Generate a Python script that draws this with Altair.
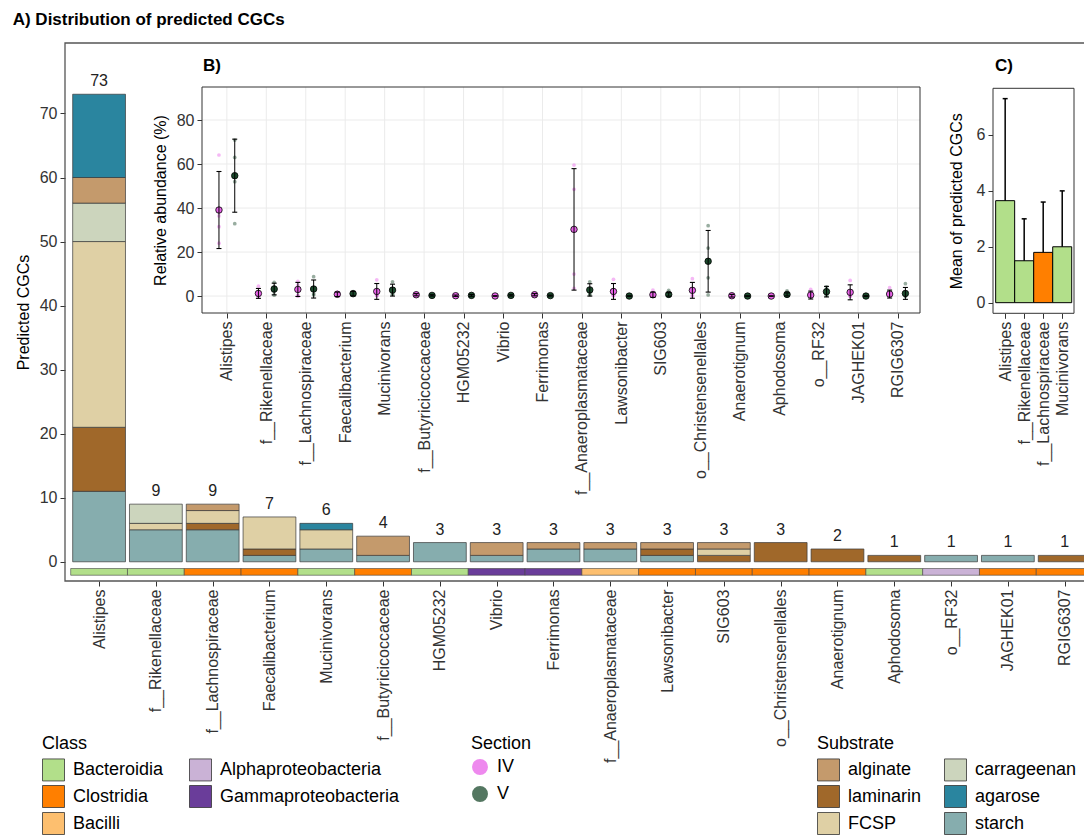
import json
import altair as alt
import pandas as pd

FONT = "Liberation Sans"

# ---------------- data ----------------
genera = ["Alistipes", "f__Rikenellaceae", "f__Lachnospiraceae", "Faecalibacterium",
          "Mucinivorans", "f__Butyricicoccaceae", "HGM05232", "Vibrio", "Ferrimonas",
          "f__Anaeroplasmataceae", "Lawsonibacter", "SIG603", "o__Christensenellales",
          "Anaerotignum", "Aphodosoma", "o__RF32", "JAGHEK01", "RGIG6307"]
genus_class = ["Bacteroidia", "Bacteroidia", "Clostridia", "Clostridia", "Bacteroidia",
               "Clostridia", "Bacteroidia", "Gammaproteobacteria", "Gammaproteobacteria",
               "Bacilli", "Clostridia", "Clostridia", "Clostridia", "Clostridia",
               "Bacteroidia", "Alphaproteobacteria", "Clostridia", "Clostridia"]

# predicted CGCs per substrate (stack order bottom -> top)
starch      = [11, 5, 5, 1, 2, 1, 3, 1, 2, 2, 1, 0, 0, 0, 0, 1, 1, 0]
laminarin   = [10, 0, 1, 1, 0, 0, 0, 0, 0, 0, 1, 1, 3, 2, 1, 0, 0, 1]
fcsp        = [29, 1, 2, 5, 3, 0, 0, 0, 0, 0, 0, 1, 0, 0, 0, 0, 0, 0]
carrageenan = [6, 3, 0, 0, 0, 0, 0, 0, 0, 0, 0, 0, 0, 0, 0, 0, 0, 0]
alginate    = [4, 0, 1, 0, 0, 3, 0, 2, 1, 1, 1, 1, 0, 0, 0, 0, 0, 0]
agarose     = [13, 0, 0, 0, 1, 0, 0, 0, 0, 0, 0, 0, 0, 0, 0, 0, 0, 0]

stack_order = ["starch", "laminarin", "FCSP", "carrageenan", "alginate", "agarose"]
stack_values = [starch, laminarin, fcsp, carrageenan, alginate, agarose]

substrate_legend = ["alginate", "laminarin", "FCSP", "carrageenan", "agarose", "starch"]
substrate_colors = ["#C49A6C", "#A0682A", "#DFD0A5", "#CCD5BD", "#2A859F", "#86ADAE"]
class_legend = ["Bacteroidia", "Clostridia", "Bacilli", "Alphaproteobacteria", "Gammaproteobacteria"]
class_colors = ["#B2DF8A", "#FF7F00", "#FDBF6F", "#CAB2D6", "#6A3D9A"]

# B) relative abundance (%), mean and sd per section, and replicate values
mean_iv = [39.1, 1.2, 3.0, 0.8, 2.1, 0.6, 0.15, 0.03, 0.6, 30.3, 2.1, 0.6, 2.6, 0.15, 0.0, 0.45, 1.7, 0.9]
sd_iv   = [17.5, 2.25, 3.2, 1.0, 3.6, 0.5, 0.3, 0.1, 0.5, 27.6, 3.6, 1.2, 3.6, 0.6, 0.1, 1.8, 3.4, 1.8]
mean_v  = [54.7, 3.2, 3.2, 1.1, 2.7, 0.3, 0.3, 0.3, 0.2, 2.8, 0.0, 0.75, 15.8, 0.0, 0.75, 2.0, 0.0, 1.2]
sd_v    = [16.6, 2.65, 4.1, 1.0, 2.7, 0.3, 0.4, 0.3, 0.2, 2.8, 0.1, 0.8, 14.0, 0.1, 0.7, 2.4, 0.1, 2.7]
raw_iv = [[64.1, 36.4, 31.5, 24.0], [4.5, 0.5, 0.0, 0.0], [6.7, 5.0, 0.3, 0.0], [1.8, 1.0, 0.3, 0.1],
          [7.4, 0.6, 0.3, 0.1], [1.2, 0.7, 0.4, 0.1], [0.5, 0.1, 0.0, 0.0], [0.1, 0.0, 0.0, 0.0],
          [1.2, 0.7, 0.4, 0.1], [59.5, 48.5, 10.0, 3.5], [7.6, 0.4, 0.2, 0.1], [2.7, 0.1, 0.0, 0.0],
          [7.9, 2.0, 0.5, 0.0], [0.6, 0.0, 0.0, 0.0], [0.1, 0.0, 0.0, 0.0], [3.0, 0.2, 0.0, 0.0],
          [7.1, 0.3, 0.0, 0.0], [3.8, 0.2, 0.0, 0.0]]
raw_v = [[70.9, 63.0, 52.0, 32.9], [6.2, 4.2, 2.0, 0.4], [8.8, 2.5, 1.0, 0.5], [2.0, 1.3, 0.8, 0.3],
         [6.5, 2.5, 1.0, 0.8], [0.7, 0.3, 0.2, 0.0], [0.9, 0.2, 0.1, 0.0], [0.7, 0.3, 0.2, 0.0],
         [0.4, 0.2, 0.1, 0.0], [6.5, 3.0, 1.0, 0.5], [0.1, 0.0, 0.0, 0.0], [2.6, 0.3, 0.1, 0.0],
         [32.0, 21.8, 8.3, 0.5], [0.1, 0.0, 0.0, 0.0], [2.4, 0.4, 0.2, 0.0], [4.2, 3.0, 0.5, 0.3],
         [0.1, 0.0, 0.0, 0.0], [5.6, 0.2, 0.1, 0.0]]
sections = ["IV", "V"]
section_colors = ["#E862E8", "#1B4A2C"]

# C) mean of predicted CGCs
c_genera = ["Alistipes", "f__Rikenellaceae", "f__Lachnospiraceae", "Mucinivorans"]
c_class = ["Bacteroidia", "Bacteroidia", "Clostridia", "Bacteroidia"]
c_mean = [3.65, 1.5, 1.8, 2.0]
c_sd = [3.65, 1.5, 1.8, 2.0]

a_yticks = [0, 10, 20, 30, 40, 50, 60, 70]
b_yticks = [0, 20, 40, 60, 80]
c_yticks = [0, 2, 4, 6]

# ---------------- tables ----------------
cgc_rows = []
for i, g in enumerate(genera):
    for o, (s, vals) in enumerate(zip(stack_order, stack_values)):
        if vals[i] > 0:
            cgc_rows.append({"idx": i, "substrate": s, "count": vals[i], "ord": o})
cgc_df = pd.DataFrame(cgc_rows)
tot_df = pd.DataFrame({"idx": list(range(len(genera))),
                       "total": [sum(v[i] for v in stack_values) for i in range(len(genera))]})
cls_df = pd.DataFrame({"idx": list(range(len(genera))), "cls": genus_class})

sum_rows, raw_rows = [], []
for i in range(len(genera)):
    sum_rows.append({"idx": i, "section": "IV", "mean": mean_iv[i], "sd": sd_iv[i]})
    sum_rows.append({"idx": i, "section": "V", "mean": mean_v[i], "sd": sd_v[i]})
    for v in raw_iv[i]:
        raw_rows.append({"idx": i, "section": "IV", "value": v})
    for v in raw_v[i]:
        raw_rows.append({"idx": i, "section": "V", "value": v})
sum_df = pd.DataFrame(sum_rows)
raw_df = pd.DataFrame(raw_rows)
c_df = pd.DataFrame({"idx": list(range(4)), "genus": c_genera, "cls": c_class,
                     "mean": c_mean, "sd": c_sd})
one = pd.DataFrame({"k": [0]})

W, H = 1076, 827

# ---------------- scales (pixel ranges place each panel) ----------------
def S(domain, rng):
    return alt.Scale(domain=domain, range=rng, nice=False, zero=False, padding=0)

AX = S([-0.6, 17.9], [57, 57 + 18.5 * 56.8])
AY = S([-3, 81], [573, 35])
BX = S([-0.63, 17.57], [194, 912])
BY = S([-7.7, 95], [305, 79])
CX = S([-0.64, 3.62], [985, 1066])
CY = S([-0.38, 7.67], [305.3, 80.3])

SUB_SCALE = alt.Scale(domain=substrate_legend, range=substrate_colors)
CLS_SCALE = alt.Scale(domain=class_legend, range=class_colors)
SEC_SCALE = alt.Scale(domain=sections, range=section_colors)

AXC = dict(labelFontSize=16, labelColor="#333333", tickColor="#333333", tickSize=5,
           domain=False, grid=False, titleFontSize=16, titleFontWeight="normal",
           titleColor="black", labelOverlap=False, labelBound=False, labelFlush=False)


def xaxis(names, offset):
    return alt.Axis(orient="bottom", offset=offset, values=list(range(len(names))),
                    labelExpr=json.dumps(names) + "[datum.value]", labelAngle=-90,
                    labelPadding=3, title=None, **AXC)


def yaxis(values, offset, title, pad):
    return alt.Axis(orient="left", offset=offset, values=values, title=title, format="d",
                    titlePadding=pad, labelPadding=3, **AXC)


def frame(xs, ys, xd, yd, **mk):
    return alt.Chart(one).mark_rect(**mk).encode(
        x=alt.XDatum(xd[0], type="quantitative", scale=xs),
        x2=alt.X2Datum(xd[1]),
        y=alt.YDatum(yd[0], type="quantitative", scale=ys),
        y2=alt.Y2Datum(yd[1]))


def title_text(txt, xs, ys, xv, yv, dx, dy):
    return alt.Chart(one).mark_text(text=txt, align="left", baseline="alphabetic", dx=dx, dy=dy,
                                    fontSize=17, fontWeight="bold", color="black").encode(
        x=alt.XDatum(xv, type="quantitative", scale=xs),
        y=alt.YDatum(yv, type="quantitative", scale=ys))


LEG = dict(orient="none", direction="vertical", labelFontSize=18, titleFontSize=18,
           titleFontWeight="normal", titleColor="black", labelColor="black", padding=0,
           titlePadding=5, labelOffset=8, labelFont=FONT, titleFont=FONT, labelLimit=400)
LEG_Y = 727

# ---------------- panel A ----------------
a_bars = alt.Chart(cgc_df).transform_stack(
    stack="count", groupby=["idx"], as_=["y0", "y1"],
    sort=[alt.SortField("ord", order="ascending")]
).mark_bar(size=52.8, orient="vertical", stroke="#3a3a3a", strokeWidth=0.7).encode(
    x=alt.X("idx:Q", scale=AX, axis=xaxis(genera, 573 - H)),
    y=alt.Y("y0:Q", scale=AY, axis=yaxis(a_yticks, -57, "Predicted CGCs", 8)),
    y2="y1:Q",
    fill=alt.Fill("substrate:N", scale=SUB_SCALE,
                  legend=alt.Legend(title="Substrate", columns=2, legendX=809, legendY=LEG_Y,
                                    symbolType="square", symbolSize=484, symbolStrokeColor="#333333",
                                    symbolStrokeWidth=0.8, rowPadding=0, columnPadding=20, **LEG)),
)
a_frame = frame(AX, AY, [-0.6, 17.9], [-3, 81], fill="transparent", stroke="#555555", strokeWidth=1.3)
a_tot = alt.Chart(tot_df).mark_text(dy=-8, fontSize=16, color="#222222", baseline="alphabetic").encode(
    x=alt.X("idx:Q", scale=AX),
    y=alt.Y("total:Q", scale=AY),
    text="total:Q")
a_strip = alt.Chart(cls_df).mark_bar(size=56.8, orient="vertical", stroke="#444444", strokeWidth=0.6).encode(
    x=alt.X("idx:Q", scale=AX),
    y=alt.YDatum(-1.05, type="quantitative", scale=AY),
    y2=alt.Y2Datum(-2.1),
    color=alt.Color("cls:N", scale=CLS_SCALE,
                    legend=alt.Legend(title="Class", columns=2, legendX=34, legendY=LEG_Y,
                                      symbolType="square", symbolSize=484, symbolStrokeColor="#333333",
                                      symbolStrokeWidth=0.8, rowPadding=0, columnPadding=23, **LEG)),
)
a_title = title_text("A) Distribution of predicted CGCs", AX, AY, -0.6, 81, -52.3, -18)
panel_a = alt.layer(a_bars, a_frame, a_strip, a_tot, a_title)

# ---------------- panel B ----------------
dodge = "datum.idx + (datum.section == 'IV' ? -0.2 : 0.2)"
raw_colour = "datum.section == '%s' ? '%s' : '%s'" % (sections[0], section_colors[0], section_colors[1])
b_vgrid = alt.Chart(pd.DataFrame({"idx": list(range(len(genera)))})).mark_rule(
    color="#EBEBEB", strokeWidth=1).encode(
    x=alt.X("idx:Q", scale=BX, axis=xaxis(genera, 305 - H)),
    y=alt.YDatum(-7.7, type="quantitative", scale=BY),
    y2=alt.Y2Datum(95))
b_hgrid = alt.Chart(pd.DataFrame({"t": b_yticks})).mark_rule(color="#EBEBEB", strokeWidth=1).encode(
    y=alt.Y("t:Q", scale=BY, axis=yaxis(b_yticks, -194, "Relative abundance (%)", 8)),
    x=alt.XDatum(-0.63, type="quantitative", scale=BX),
    x2=alt.X2Datum(17.57))
b_bg = frame(BX, BY, [-0.63, 17.57], [-7.7, 95], fill="white", stroke="transparent")
b_mean = alt.Chart(sum_df).transform_calculate(xpos=dodge).mark_circle(
    size=42, opacity=1, stroke="black", strokeWidth=0.8).encode(
    x=alt.X("xpos:Q", scale=BX),
    y=alt.Y("mean:Q", scale=BY),
    fill=alt.Fill("section:N", scale=SEC_SCALE,
                  legend=alt.Legend(title="Section", columns=1, legendX=463, legendY=LEG_Y,
                                    symbolType="circle", symbolSize=254, symbolStrokeWidth=0,
                                    symbolOpacity=0.75, rowPadding=9, **LEG)))
b_raw = alt.Chart(raw_df).transform_calculate(xpos=dodge, rawcol=raw_colour).mark_circle(
    size=14, opacity=0.45).encode(
    x=alt.X("xpos:Q", scale=BX),
    y=alt.Y("value:Q", scale=BY),
    color=alt.Color("rawcol:N", scale=None))
b_err = alt.Chart(sum_df).transform_calculate(
    xpos=dodge, lo="datum.mean - datum.sd", hi="datum.mean + datum.sd"
).mark_rule(color="black", strokeWidth=1).encode(
    x=alt.X("xpos:Q", scale=BX),
    y=alt.Y("lo:Q", scale=BY),
    y2="hi:Q")
b_caps = alt.Chart(sum_df).transform_calculate(
    xpos=dodge, lo="datum.mean - datum.sd", hi="datum.mean + datum.sd"
).transform_fold(["lo", "hi"], as_=["end", "yv"]).mark_tick(
    orient="horizontal", size=5, thickness=1.1, color="black", opacity=1).encode(
    x=alt.X("xpos:Q", scale=BX),
    y=alt.Y("yv:Q", scale=BY))
b_border = frame(BX, BY, [-0.63, 17.57], [-7.7, 95], fill="transparent", stroke="#333333", strokeWidth=1)
b_title = title_text("B)", BX, BY, -0.63, 95, 1, -16.3)
panel_b = alt.layer(b_bg, b_vgrid, b_hgrid, b_raw, b_mean, b_err, b_caps, b_border, b_title)

# ---------------- panel C ----------------
c_bars = alt.Chart(c_df).mark_bar(size=19, orient="vertical", stroke="black", strokeWidth=1).encode(
    x=alt.X("idx:Q", scale=CX, axis=xaxis(c_genera, 305.3 - H)),
    y=alt.Y("mean:Q", scale=CY, axis=yaxis(c_yticks, -985, "Mean of predicted CGCs", 12)),
    y2=alt.Y2Datum(0),
    color=alt.Color("cls:N", scale=CLS_SCALE, legend=None))
c_bg = frame(CX, CY, [-0.64, 3.62], [-0.38, 7.67], fill="white", stroke="transparent")
c_err = alt.Chart(c_df).transform_calculate(hi="datum.mean + datum.sd").mark_rule(
    color="black", strokeWidth=1.5).encode(
    x=alt.X("idx:Q", scale=CX),
    y=alt.Y("mean:Q", scale=CY),
    y2="hi:Q")
c_cap = alt.Chart(c_df).transform_calculate(hi="datum.mean + datum.sd").mark_tick(
    orient="horizontal", size=5, thickness=1.5, color="black", opacity=1).encode(
    x=alt.X("idx:Q", scale=CX),
    y=alt.Y("hi:Q", scale=CY))
c_border = frame(CX, CY, [-0.64, 3.62], [-0.38, 7.67], fill="transparent", stroke="#333333", strokeWidth=1)
c_title = title_text("C)", CX, CY, -0.64, 7.67, 2, -17)
panel_c = alt.layer(c_bg, c_bars, c_err, c_cap, c_border, c_title)

chart = alt.layer(panel_a, panel_b, panel_c).resolve_scale(
    x="independent", y="independent", fill="independent", color="independent"
).properties(
    width=W, height=H, padding={"left": 0, "top": 0, "right": 0, "bottom": 0},
    autosize=alt.AutoSizeParams(type="none")
).configure(font=FONT, padding={"left": 0, "top": 0, "right": 0, "bottom": 0}
).configure_view(stroke=None).configure_axis(
    labelFont=FONT, titleFont=FONT
).configure_text(font=FONT)

chart.save("out.html", embed_options={"renderer": "svg", "actions": False})
